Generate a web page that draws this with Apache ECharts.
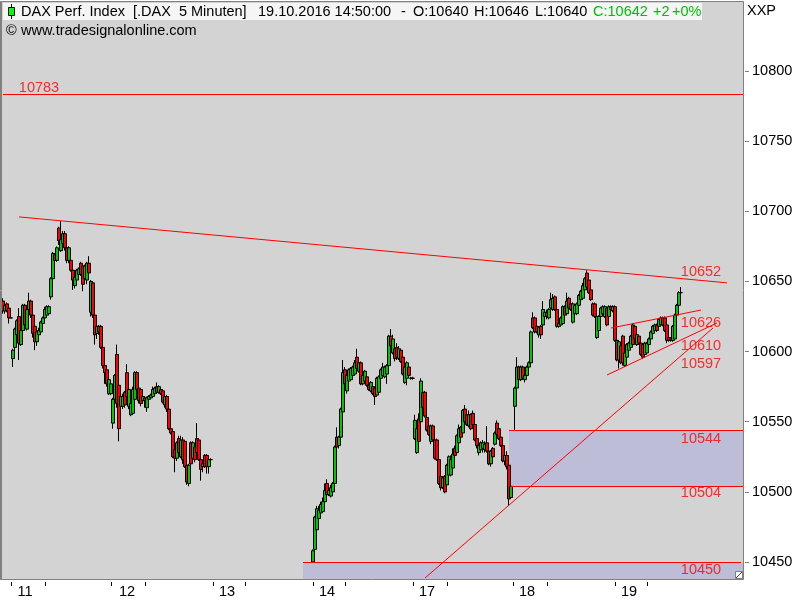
<!DOCTYPE html>
<html><head><meta charset="utf-8">
<style>html,body{margin:0;padding:0;background:#fff}#c{width:800px;height:600px}</style>
<script src="https://cdn.jsdelivr.net/npm/echarts@6/dist/echarts.min.js"></script>
</head><body><div id="c"></div>
<script>
// [open, close, low, high]
const barsDay11to12 = [
[10636,10629,10627,10638],[10629,10633,10627,10636],[10634,10629,10628,10635],[10631,10624,10620,10632],[10624,10624,10624,10625],
[10595,10601,10589,10602],[10603,10616,10600,10617],[10612,10622,10610,10623],[10625,10606,10594,10631],[10605,10615,10604,10622],
[10615,10633,10612,10634],[10633,10619,10616,10634],[10616,10630,10615,10632],[10630,10636,10628,10642],[10636,10626,10624,10637],
[10626,10613,10610,10627],[10618,10607,10601,10619],[10607,10614,10604,10616],[10612,10615,10610,10617],[10614,10621,10612,10622],
[10620,10624,10618,10625],[10624,10630,10622,10632],[10626,10632,10624,10633],[10627,10632,10626,10633],[10639,10652,10637,10653],
[10652,10670,10650,10671],[10669,10665,10663,10670],[10665,10674,10664,10675],[10688,10679,10676,10689],[10672,10680,10671,10693],
[10677,10684,10672,10686],[10684,10674,10672,10686],[10674,10665,10663,10675],[10665,10674,10663,10675],[10665,10658,10657,10666],
[10658,10651,10644,10659],[10647,10653,10645,10654],[10651,10658,10650,10659],[10655,10659,10654,10660],[10663,10655,10654,10664],
[10661,10648,10643,10662],[10652,10661,10650,10662],[10651,10663,10648,10664],[10663,10656,10654,10668],[10628,10650,10625,10651],
[10649,10626,10624,10650],[10626,10612,10605,10627],[10613,10618,10609,10620],[10618,10614,10612,10619],[10618,10603,10602,10619],
[10603,10590,10588,10604],[10590,10585,10577,10590],[10587,10577,10575,10590],[10570,10580,10569,10582],[10570,10577,10569,10578],
[10549,10566,10545,10567],[10566,10583,10564,10584],[10598,10563,10560,10605],[10576,10545,10536,10577],[10561,10568,10554,10569],
[10561,10568,10559,10570],[10571,10562,10560,10572],[10585,10568,10566,10591],[10561,10573,10559,10574],[10555,10563,10554,10564],
[10556,10573,10555,10575],[10566,10585,10565,10586],[10585,10573,10572,10586],[10574,10565,10563,10575],[10573,10563,10561,10574],
[10565,10568,10564,10569],[10567,10565,10560,10568],[10560,10567,10557,10568],[10566,10568,10565,10569],[10567,10569,10566,10570],
[10568,10573,10567,10575],[10570,10574,10569,10575],[10575,10571,10570,10578],[10571,10575,10570,10576],[10573,10570,10569,10574],
[10572,10564,10563,10573],[10562,10568,10560,10569],[10568,10559,10557,10569],[10559,10545,10544,10560],[10545,10542,10541,10546],
[10543,10525,10524,10544],[10530,10524,10514,10531],[10524,10535,10522,10536],[10538,10528,10526,10540],[10525,10537,10524,10540],
[10537,10523,10520,10539],[10536,10518,10517,10537],[10519,10507,10505,10520],[10506,10519,10504,10520],[10535,10520,10519,10536],
[10524,10535,10523,10536],[10532,10523,10521,10533],[10538,10528,10527,10549],[10537,10523,10522,10538],[10523,10516,10508,10524],
[10518,10520,10514,10521],[10526,10518,10517,10527],[10526,10518,10513,10527],[10518,10523,10513,10524],[10523,10523,10522,10524]];
const barsDay14 = [
[10450,10458,10450,10459],[10459,10482,10458,10483],[10473,10488,10472,10490],[10481,10487,10480,10490],[10485,10491,10484,10493],
[10486,10493,10485,10496],[10493,10501,10492,10506],[10506,10498,10497,10509],[10498,10501,10497,10503],[10497,10503,10496,10505],
[10500,10506,10499,10507],[10506,10532,10505,10533],[10539,10532,10530,10546],[10533,10539,10531,10540],[10539,10559,10538,10560],
[10557,10585,10556,10594],[10587,10577,10575,10589],[10572,10583,10570,10584],[10579,10587,10578,10588],[10580,10588,10579,10589],
[10583,10589,10582,10590],[10584,10592,10583,10594],[10596,10588,10587,10602],[10586,10592,10585,10593],[10592,10577,10576,10593],
[10577,10583,10576,10584],[10579,10586,10578,10587],[10582,10576,10575,10583],[10576,10573,10572,10577],[10572,10578,10571,10579],
[10575,10570,10569,10576],[10574,10568,10562,10575],[10569,10581,10568,10582],[10571,10582,10570,10583],[10581,10587,10580,10588],
[10583,10589,10582,10592],[10582,10589,10581,10590],[10584,10590,10577,10591],[10590,10611,10589,10612],[10611,10604,10602,10616],
[10599,10609,10598,10612],[10602,10595,10593,10604],[10603,10596,10594,10606],[10595,10602,10594,10604],[10601,10593,10592,10602],
[10596,10584,10583,10598],[10578,10589,10577,10590],[10581,10592,10576,10593],[10589,10583,10582,10590],[10581,10581,10580,10582],
[10581,10581,10580,10582]];
const barsDay17 = [
[10538,10551,10537,10555],[10528,10545,10527,10548],[10552,10536,10535,10556],[10550,10579,10549,10581],[10571,10560,10558,10572],
[10571,10554,10553,10572],[10553,10544,10543,10555],[10547,10541,10540,10548],[10536,10547,10534,10548],[10547,10537,10536,10548],
[10537,10524,10523,10538],[10537,10523,10522,10538],[10523,10506,10505,10524],[10511,10503,10501,10513],[10503,10510,10502,10511],
[10511,10500,10499,10512],[10505,10519,10504,10520],[10512,10525,10511,10526],[10512,10523,10511,10526],[10517,10527,10516,10531],
[10531,10526,10525,10533],[10528,10540,10527,10541],[10535,10545,10534,10548],[10546,10539,10538,10547],[10542,10558,10541,10559],
[10559,10550,10549,10562],[10555,10548,10547,10556],[10547,10555,10546,10558],[10555,10545,10544,10556],[10556,10548,10547,10558],
[10548,10537,10536,10549],[10538,10533,10531,10539],[10528,10533,10526,10534],[10530,10535,10529,10536],[10531,10535,10528,10537],
[10530,10534,10528,10536],[10535,10529,10528,10547],[10529,10520,10519,10530],[10520,10529,10518,10530],[10531,10525,10524,10532],
[10534,10542,10533,10543],[10549,10541,10540,10551],[10545,10538,10537,10549],[10539,10533,10532,10540],[10533,10522,10521,10534],
[10522,10526,10519,10528],[10526,10518,10516,10529],[10519,10495,10490,10520],[10496,10504,10495,10505]];
const barsDay18to19 = [
[10561,10574,10544,10575],[10574,10589,10572,10596],[10589,10580,10579,10590],[10580,10589,10579,10590],[10589,10581,10580,10590],
[10580,10583,10578,10584],[10583,10589,10582,10590],[10589,10592,10588,10593],[10592,10614,10591,10615],[10624,10617,10616,10628],
[10624,10614,10613,10625],[10618,10614,10613,10619],[10612,10617,10610,10618],[10618,10612,10609,10619],[10619,10630,10618,10636],
[10625,10628,10624,10630],[10628,10625,10623,10630],[10624,10630,10623,10631],[10631,10637,10630,10642],[10630,10638,10629,10641],
[10639,10630,10629,10640],[10630,10618,10617,10631],[10618,10620,10617,10621],[10619,10624,10618,10625],[10620,10632,10619,10633],
[10632,10626,10625,10633],[10627,10636,10626,10642],[10638,10631,10630,10639],[10634,10630,10629,10635],[10621,10634,10620,10635],
[10627,10633,10626,10634],[10627,10634,10626,10635],[10633,10640,10632,10641],[10637,10643,10636,10644],[10638,10647,10637,10649],
[10644,10652,10643,10653],[10656,10646,10645,10658],[10651,10642,10641,10652],[10644,10637,10636,10645],[10634,10626,10625,10635],
[10634,10625,10624,10635],[10610,10625,10609,10626],[10615,10625,10614,10626],[10625,10631,10624,10632],[10627,10632,10626,10633],
[10625,10632,10624,10633],[10631,10619,10618,10632],[10625,10632,10624,10633],[10632,10630,10629,10633],[10629,10632,10628,10633],
[10632,10608,10607,10633],[10608,10594,10593,10609],[10594,10607,10588,10608],[10604,10592,10591,10605],[10611,10592,10590,10612],
[10590,10599,10589,10600],[10596,10605,10595,10606],[10601,10606,10600,10607],[10603,10611,10602,10612],[10619,10605,10604,10620],
[10618,10609,10608,10619],[10605,10612,10604,10613],[10611,10606,10605,10612],[10606,10598,10597,10607],[10605,10596,10595,10606],
[10598,10606,10597,10607],[10599,10606,10598,10607],[10605,10609,10604,10610],[10609,10614,10608,10615],[10613,10618,10612,10619],
[10615,10619,10614,10620],[10619,10615,10614,10620],[10618,10623,10617,10624],[10619,10624,10618,10625],[10624,10619,10618,10625],
[10624,10615,10614,10625],[10619,10608,10606,10620],[10610,10608,10607,10611],[10608,10609,10607,10610],[10608,10618,10607,10619],
[10609,10626,10608,10627],[10626,10633,10625,10634],[10633,10642,10632,10643],[10642,10642,10641,10646]];
const emptyBar = ['-','-','-','-'];
const gapDay13 = 50, gapDay18 = 1, categoryCount = 371;
const dayLabels = ['11','12','13','14','17','18','19'];
const dayLabelSlots = [11,62,112,162,212,262,313];
const tickSlots = [4,21,54,71,105,121,155,171,205,222,255,272,306,322];
const yTickValues = [10450,10500,10550,10600,10650,10700,10750,10800];
const yMin = 10437.9, yMax = 10849.9;
// trend lines: [slot, value, slot, value]
const trendLines = [
 [8,10696,362,10649],
 [211,10438.6,355,10616.8],
 [302,10583.3,357,10620.4],
 [304,10616.8,349,10629.6]
];
// horizontal levels: [value, first slot, last slot]
const levels = [[10783.4,0,370],[10544,253,370],[10504,254,370],[10450,150,369]];
// shaded zones: [low, high, first slot]
const zones = [[10504,10544,253],[yMin,10450,150]];
const levelTexts = ['10783','10652','10626','10610','10597','10544','10504','10450'];
const levelTextSlots = [18,349,349,349,349,349,349,349];
const levelTextValues = [10788,10656.7,10620.3,10604.3,10591.5,10537.7,10499.3,10444];

const candles = [...barsDay11to12, ...Array(gapDay13).fill(emptyBar), ...barsDay14, ...barsDay17,
                 ...Array(gapDay18).fill(emptyBar), ...barsDay18to19];
const categories = Array.from({length:categoryCount},(_,i)=>String(i));
const FONT = '"Liberation Sans", Arial, sans-serif';
const TXT = '14.5px '+FONT;
const RED = '#FF0000', GRAY = '#808080';
const headerPieces = [
 ['DAX Perf. Index',21,'#000'],['[.DAX  5 Minuten]',133,'#000'],['19.10.2016 14:50:00',258,'#000'],['-',401,'#000'],
 ['O:10640',413,'#000'],['H:10646',474,'#000'],['L:10640',535,'#000'],['C:10642',593,'#00C000'],['+2',653,'#00C000'],['+0%',672,'#00C000']
];
const graphics = [
 {type:'rect',z:49,shape:{x:744,y:0,width:1,height:582},style:{fill:'#FFF'}},
 {type:'rect',z:49,shape:{x:1.5,y:1.5,width:742,height:578},style:{fill:'none',stroke:GRAY,lineWidth:1}},
 {type:'line',z:49,shape:{x1:0.5,y1:1,x2:0.5,y2:580},style:{stroke:GRAY,lineWidth:1}},
 {type:'rect',z:50,shape:{x:3,y:3,width:699,height:17},style:{fill:'#F5F5F5'}},
 {type:'line',z:51,shape:{x1:11.5,y1:4,x2:11.5,y2:19},style:{stroke:'#000',lineWidth:1}},
 {type:'rect',z:52,shape:{x:8.5,y:7.5,width:6,height:8},style:{fill:'#00FF00',stroke:'#000',lineWidth:1}},
 ...headerPieces.map(p=>({type:'text',z:53,x:p[1],y:12,style:{text:p[0],fill:p[2],font:TXT,textVerticalAlign:'middle'}})),
 {type:'text',z:53,x:6,y:31,style:{text:'©',fill:'#000',font:TXT,textVerticalAlign:'middle'}},
 {type:'text',z:53,x:21,y:31,style:{text:'www.tradesignalonline.com',fill:'#000',font:TXT,textVerticalAlign:'middle'}},
 {type:'text',z:53,x:747,y:11,style:{text:'XXP',fill:'#000',font:TXT,textVerticalAlign:'middle'}},
 {type:'rect',z:53,shape:{x:735.5,y:571.5,width:7,height:7},style:{fill:'#FFF',stroke:GRAY,lineWidth:1}},
 {type:'line',z:54,shape:{x1:736,y1:578,x2:742,y2:572},style:{stroke:'#404040',lineWidth:1}}
];
const chart = echarts.init(document.getElementById('c'),null,{renderer:'canvas',width:800,height:600});
chart.setOption({
 animation:false,backgroundColor:'#FFFFFF',
 grid:{left:2,top:1,width:742,height:578,show:true,backgroundColor:'#D3D3D3',borderWidth:0,containLabel:false},
 graphic:graphics,
 xAxis:{type:'category',data:categories,boundaryGap:true,offset:3,
  axisLine:{show:false},splitLine:{show:false},
  axisTick:{show:true,alignWithLabel:true,length:4,lineStyle:{color:'#000'},interval:i=>tickSlots.includes(i)},
  axisLabel:{show:true,margin:2,color:'#000',fontSize:14.5,fontFamily:FONT,hideOverlap:false,
   interval:i=>dayLabelSlots.includes(i),formatter:(v,i)=>dayLabels[dayLabelSlots.indexOf(Number(v))]}},
 yAxis:{type:'value',position:'right',min:yMin,max:yMax,offset:1,scale:true,
  axisLine:{show:false},splitLine:{show:false},
  axisTick:{show:true,length:4,lineStyle:{color:GRAY},customValues:yTickValues},
  axisLabel:{show:true,margin:7,color:'#000',fontSize:14.5,fontFamily:FONT,customValues:yTickValues,showMinLabel:true,showMaxLabel:true,formatter:v=>String(v)}},
 series:[
  {type:'line',z:1,data:[],silent:true,symbol:'none',
   markArea:{silent:true,itemStyle:{color:'#BDBDD7',opacity:1},label:{show:false},
    data:zones.map(z=>[{xAxis:z[2],yAxis:z[1]},{xAxis:categoryCount-1,yAxis:z[0]}])}},
  {type:'candlestick',z:3,data:candles,barWidth:3,silent:true,
   itemStyle:{color:'#00C800',color0:'#FF0000',borderColor:'#000',borderColor0:'#000',borderColorDoji:'#000',borderWidth:1}},
  {type:'line',z:5,data:[],silent:true,symbol:'none',
   markLine:{silent:true,symbol:'none',animation:false,label:{show:false},lineStyle:{color:RED,width:1,type:'solid'},
    data:[...levels.map(l=>[{coord:[l[1],l[0]]},{coord:[l[2],l[0]]}]),
          ...trendLines.map(t=>[{coord:[t[0],t[1]]},{coord:[t[2],t[3]]}])]}},
  {type:'scatter',z:6,silent:true,symbolSize:0,
   data:levelTexts.map((t,i)=>({name:t,value:[levelTextSlots[i],levelTextValues[i]]})),
   label:{show:true,position:'inside',formatter:p=>p.name,color:RED,fontSize:14.5,fontFamily:FONT}}
 ]
});
</script></body></html>
